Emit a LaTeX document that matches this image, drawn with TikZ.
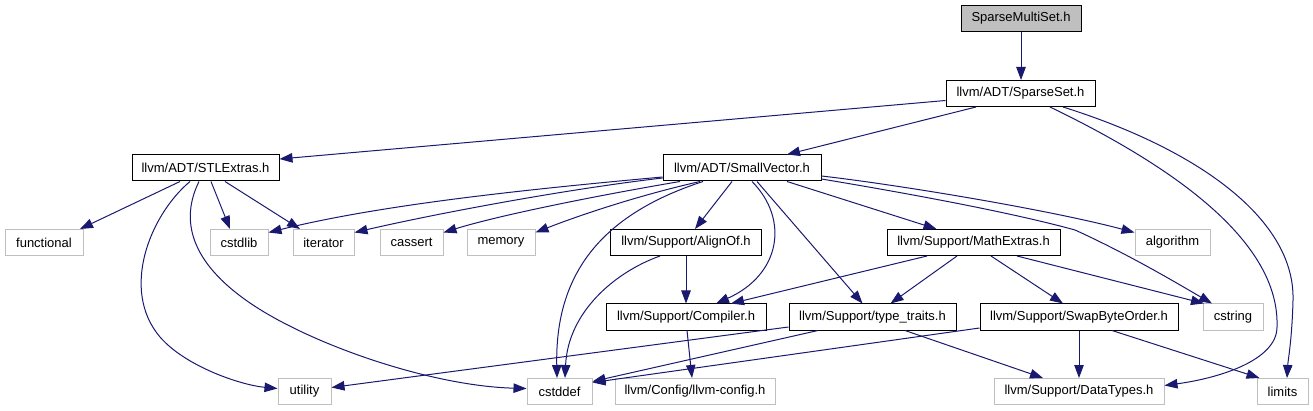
\documentclass[tikz,border=0pt]{standalone}
\usepackage{fontspec}
\setmainfont{Liberation Sans}
\usetikzlibrary{arrows.meta}
\definecolor{edgeblue}{HTML}{191970}
\definecolor{boxgray}{HTML}{BFBFBF}
\begin{document}
\begin{tikzpicture}[x=1pt,y=-1pt,
  every node/.style={font=\fontsize{13}{15}\selectfont, inner sep=0pt, minimum height=26pt, line width=1pt},
  docbox/.style={draw=black},
  extbox/.style={draw=boxgray},
  rootbox/.style={draw=black, fill=boxgray},
  edge/.style={draw=edgeblue, line width=1pt, -{Triangle[length=13pt,width=9.5pt]}}
]
\useasboundingbox (0,0) rectangle (1313,411);
% row 0/1
\node[rootbox, minimum width=120pt] (smset) at (1021,18.5) {SparseMultiSet.h};
\node[docbox, minimum width=149pt] (sset) at (1020.5,93.5) {llvm/ADT/SparseSet.h};
% row 2
\node[docbox, minimum width=147pt] (stl) at (205.5,168) {llvm/ADT/STLExtras.h};
\node[docbox, minimum width=158pt] (svec) at (742,168) {llvm/ADT/SmallVector.h};
% row 3
\node[extbox, minimum width=78pt] (functional) at (44,242.5) {functional};
\node[extbox, minimum width=58pt] (cstdlib) at (239,242.5) {cstdlib};
\node[extbox, minimum width=61pt] (iterator) at (323.5,242.5) {iterator};
\node[extbox, minimum width=63pt] (cassert) at (411.5,242.5) {cassert};
\node[extbox, minimum width=68pt] (memory) at (501,242.5) {memory};
\node[docbox, minimum width=151pt] (alignof) at (686,242.5) {llvm/Support/AlignOf.h};
\node[docbox, minimum width=173pt] (mathex) at (973.5,242.5) {llvm/Support/MathExtras.h};
\node[extbox, minimum width=75pt] (algorithm) at (1172.5,242.5) {algorithm};
% row 4
\node[docbox, minimum width=160pt] (compiler) at (686,317) {llvm/Support/Compiler.h};
\node[docbox, minimum width=167pt] (typetr) at (872.5,317) {llvm/Support/type\_traits.h};
\node[docbox, minimum width=198pt] (swap) at (1079,317) {llvm/Support/SwapByteOrder.h};
\node[extbox, minimum width=60pt] (cstring) at (1233,317) {cstring};
% row 5
\node[extbox, minimum width=53pt] (utility) at (304.5,391.5) {utility};
\node[extbox, minimum width=65pt] (cstddef) at (559.5,391.5) {cstddef};
\node[extbox, minimum width=160pt] (llvmcfg) at (695,391.5) {llvm/Config/llvm-config.h};
\node[extbox, minimum width=170pt] (datatypes) at (1079,391.5) {llvm/Support/DataTypes.h};
\node[extbox, minimum width=51pt] (limits) at (1282.5,391.5) {limits};

% edges
\draw[edge] (smset.south) -- (smset.south |- sset.north);
\draw[edge] ([yshift=-7]sset.west) -- ([yshift=9]stl.east);
\draw[edge] ([xshift=-44.5]sset.south) -- ([xshift=45]svec.north);
\draw[edge] ([xshift=29.5]sset.south) .. controls (1170,165) and (1280,240) .. (1277,327)
  .. controls (1277,360) and (1220,378) .. ([yshift=6]datatypes.east);
\draw[edge] ([xshift=42.5]sset.south) .. controls (1200,150) and (1295,220) .. (1293,300)
  .. controls (1292,340) and (1288,360) .. ([xshift=4.5]limits.north);

\draw[edge] ([xshift=-25.5]stl.south) -- ([xshift=36]functional.north);
\draw[edge] ([xshift=5.5]stl.south) -- ([xshift=-9]cstdlib.north);
\draw[edge] ([xshift=19.5]stl.south) -- ([xshift=-23.5]iterator.north);
\draw[edge] ([xshift=-15.5]stl.south) .. controls (150,215) and (120,290) .. (160,337)
  .. controls (185,366) and (240,385) .. ([yshift=3]utility.west);
\draw[edge] ([xshift=-6.5]stl.south) .. controls (180,220) and (190,262) .. (250,303)
  .. controls (310,344) and (430,386) .. ([yshift=3]cstddef.west);

\draw[edge] ([yshift=-9]svec.west) .. controls (520,190) and (380,205) .. ([yshift=10]cstdlib.east);
\draw[edge] ([yshift=-10]svec.west) .. controls (560,190) and (430,215) .. ([yshift=10]iterator.east);
\draw[edge] ([xshift=-62]svec.south) .. controls (600,195) and (500,215) .. ([yshift=10]cassert.east);
\draw[edge] ([xshift=-42]svec.south) .. controls (640,195) and (580,215) .. ([yshift=10]memory.east);
\draw[edge] ([xshift=-10]svec.south) -- ([xshift=9]alignof.north);
\draw[edge] ([xshift=-39]svec.south) .. controls (600,215) and (555,275) .. ([xshift=-2.5]cstddef.north);
\draw[edge] ([xshift=10]svec.south) .. controls (790,220) and (780,275) .. ([xshift=30]compiler.north);
\draw[edge] ([xshift=15]svec.south) -- ([xshift=-10]typetr.north);
\draw[edge] ([xshift=45]svec.south) -- ([xshift=-37]mathex.north);
\draw[edge] ([yshift=-8]svec.east) .. controls (900,185) and (1050,210) .. ([yshift=10]algorithm.west);
\draw[edge] ([yshift=-11]svec.east) .. controls (900,192) and (1010,212) .. (1075,230)
  .. controls (1130,255) and (1180,285) .. ([xshift=-21]cstring.north);

\draw[edge] (alignof.south) -- (compiler.north);
\draw[edge] ([xshift=-26]alignof.south) .. controls (615,272) and (568,312) .. ([xshift=5.5]cstddef.north);

\draw[edge] ([xshift=-46.5]mathex.south) -- ([xshift=45]compiler.north);
\draw[edge] ([xshift=-16.5]mathex.south) -- ([xshift=18]typetr.north);
\draw[edge] ([xshift=17.5]mathex.south) -- ([xshift=-16]swap.north);
\draw[edge] ([xshift=43.5]mathex.south) -- ([xshift=-29]cstring.north);

\draw[edge] ([xshift=1]compiler.south) -- ([xshift=-3]llvmcfg.north);
\draw[edge] ([yshift=-10]typetr.west) -- ([yshift=4]utility.east);
\draw[edge] ([xshift=-54.5]typetr.south) -- ([yshift=10]cstddef.east);
\draw[edge] ([xshift=32.5]typetr.south) -- ([xshift=-36]datatypes.north);

\draw[edge] ([yshift=-11]swap.west) -- ([yshift=9]cstddef.east);
\draw[edge] (swap.south) -- (datatypes.north);
\draw[edge] ([xshift=33]swap.south) -- ([xshift=3]limits.north west);
\end{tikzpicture}
\end{document}
